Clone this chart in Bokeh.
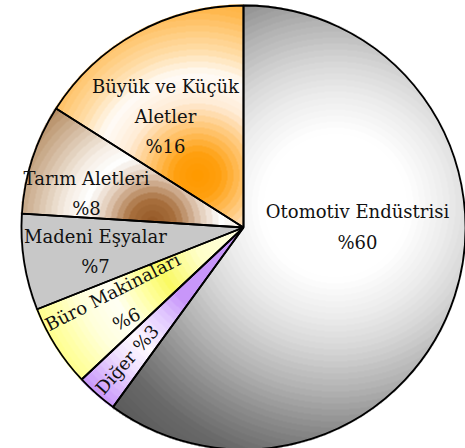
import numpy as np
from bokeh.plotting import figure
from bokeh.models import Range1d, ColumnDataSource
from bokeh.embed import file_html
from bokeh.resources import INLINE
from bokeh.core.properties import value

# ---- data (counter-clockwise from 12 o'clock) ----
categories = ["Büyük ve Küçük Aletler", "Tarım Aletleri", "Madeni Eşyalar",
              "Büro Makinaları", "Diğer", "Otomotiv Endüstrisi"]
shares = [16, 8, 7, 6, 3, 60]
label_texts = ["Büyük ve Küçük\nAletler\n%16", "Tarım Aletleri\n%8", "Madeni Eşyalar\n%7",
               "Büro Makinaları\n%6", "Diğer %3", "Otomotiv Endüstrisi\n%60"]

# ---- layout / style ----
W, H = 465, 448


def to_data(X, Y):
    return float(X), float(H - Y)


CX, CY = to_data(243, 227)
R = 222.0

gradients = {
    "Büyük ve Küçük Aletler": ((197, 175), [(0, (255, 154, 0)), (20, (255, 160, 16)), (45, (255, 198, 115)),
                                            (70, (255, 236, 214)), (98, (255, 252, 248)), (122, (255, 222, 170)),
                                            (165, (255, 182, 72))]),
    "Tarım Aletleri": ((152, 222), [(0, (150, 90, 40)), (20, (168, 112, 62)), (45, (226, 204, 184)),
                                    (65, (255, 255, 255)), (85, (246, 238, 228)), (150, (176, 132, 88))]),
    "Madeni Eşyalar": ((245, 230), [(0, (200, 200, 200)), (500, (200, 200, 200))]),
    "Büro Makinaları": ((245, 230), [(0, (255, 255, 225)), (50, (255, 255, 200)), (90, (250, 250, 100)),
                                     (110, (255, 255, 150)), (145, (255, 255, 245)), (175, (255, 255, 220)),
                                     (225, (255, 255, 130))]),
    "Diğer": ((245, 230), [(0, (200, 150, 250)), (90, (200, 150, 250)), (115, (225, 200, 255)),
                           (150, (255, 250, 255)), (175, (240, 225, 255)), (225, (195, 140, 250))]),
    "Otomotiv Endüstrisi": ((335, 205), [(0, (255, 255, 255)), (70, (255, 255, 255)), (105, (238, 238, 238)),
                                         (140, (215, 215, 215)), (180, (180, 180, 180)), (220, (140, 140, 140)),
                                         (260, (105, 105, 105)), (300, (90, 90, 90))]),
}
base_colors = ["#ffa020", "#b07a4a", "#c8c8c8", "#ffff80", "#cc99ff", "#c0c0c0"]

# label anchors: ("xy", X, Y, angle_deg) in picture pixels, or ("radial", radius, None, None) along slice middle
label_place = [("xy", 165, 116, 0), ("xy", 86, 193, 0), ("xy", 95, 251, 0),
               ("xy", 119, 305, 27), ("radial", 176, None, None), ("xy", 357, 226.5, 0)]

# ---- angles from data ----
total = float(sum(shares))
cum = np.concatenate([[0.0], np.cumsum(shares)]) / total * 2 * np.pi
start_angles = np.pi / 2 + cum[:-1]
end_angles = np.pi / 2 + cum[1:]
mid_angles = (start_angles + end_angles) / 2

# ---- gradient fill image built from the same slice angles ----
yy, xx = np.mgrid[0:H, 0:W] + 0.5
dxp, dyp = xx - CX, yy - CY
dist = np.hypot(dxp, dyp)
ang = (np.arctan2(dyp, dxp) - np.pi / 2) % (2 * np.pi)
idx = np.clip(np.searchsorted(cum[1:], ang, side="right"), 0, len(shares) - 1)
rgba = np.zeros((H, W, 4), dtype=np.uint8)
for i, cat in enumerate(categories):
    (gX, gY), stops = gradients[cat]
    gx, gy = to_data(gX, gY)
    mask = (idx == i) & (dist <= R + 1.0)
    d = np.hypot(xx - gx, yy - gy)
    d = np.floor(d / 6.0) * 6.0
    rs = [s[0] for s in stops]
    for c in range(3):
        ch = np.interp(d, rs, [s[1][c] for s in stops])
        rgba[..., c][mask] = ch[mask].astype(np.uint8)
    rgba[..., 3][mask] = 255
img = rgba.view(dtype=np.uint32).reshape(H, W)

p = figure(width=W, height=H, x_range=Range1d(0, W), y_range=Range1d(0, H),
           output_backend="svg", toolbar_location=None, min_border=0,
           x_axis_location=None, y_axis_location=None)
p.grid.visible = False
p.outline_line_color = None
p.background_fill_color = "white"

wsrc = ColumnDataSource(dict(cat=categories, share=shares, start=start_angles, end=end_angles,
                             color=base_colors))
p.wedge(x=CX, y=CY, radius=R, start_angle="start", end_angle="end", source=wsrc,
        fill_color="color", line_color=None)
p.image_rgba(image=[img], x=0, y=0, dw=W, dh=H)
p.wedge(x=CX, y=CY, radius=R, start_angle="start", end_angle="end", source=wsrc,
        fill_color=None, line_color="black", line_width=1.8)

lx, ly, la = [], [], []
for i, (kind, a, b, deg) in enumerate(label_place):
    if kind == "xy":
        x, y = to_data(a, b)
        lx.append(x)
        ly.append(y)
        la.append(np.deg2rad(deg))
    else:
        m = mid_angles[i]
        lx.append(CX + a * np.cos(m))
        ly.append(CY + a * np.sin(m))
        la.append(m - np.pi)
tsrc = ColumnDataSource(dict(x=lx, y=ly, text=label_texts, angle=la))
p.text(x="x", y="y", text="text", angle="angle", source=tsrc,
       text_font=value("DejaVu Serif"), text_font_size="18px", text_color="#111111",
       text_align="center", text_baseline="middle", text_line_height=1.45)

open("out.html", "w").write(file_html(p, INLINE))
